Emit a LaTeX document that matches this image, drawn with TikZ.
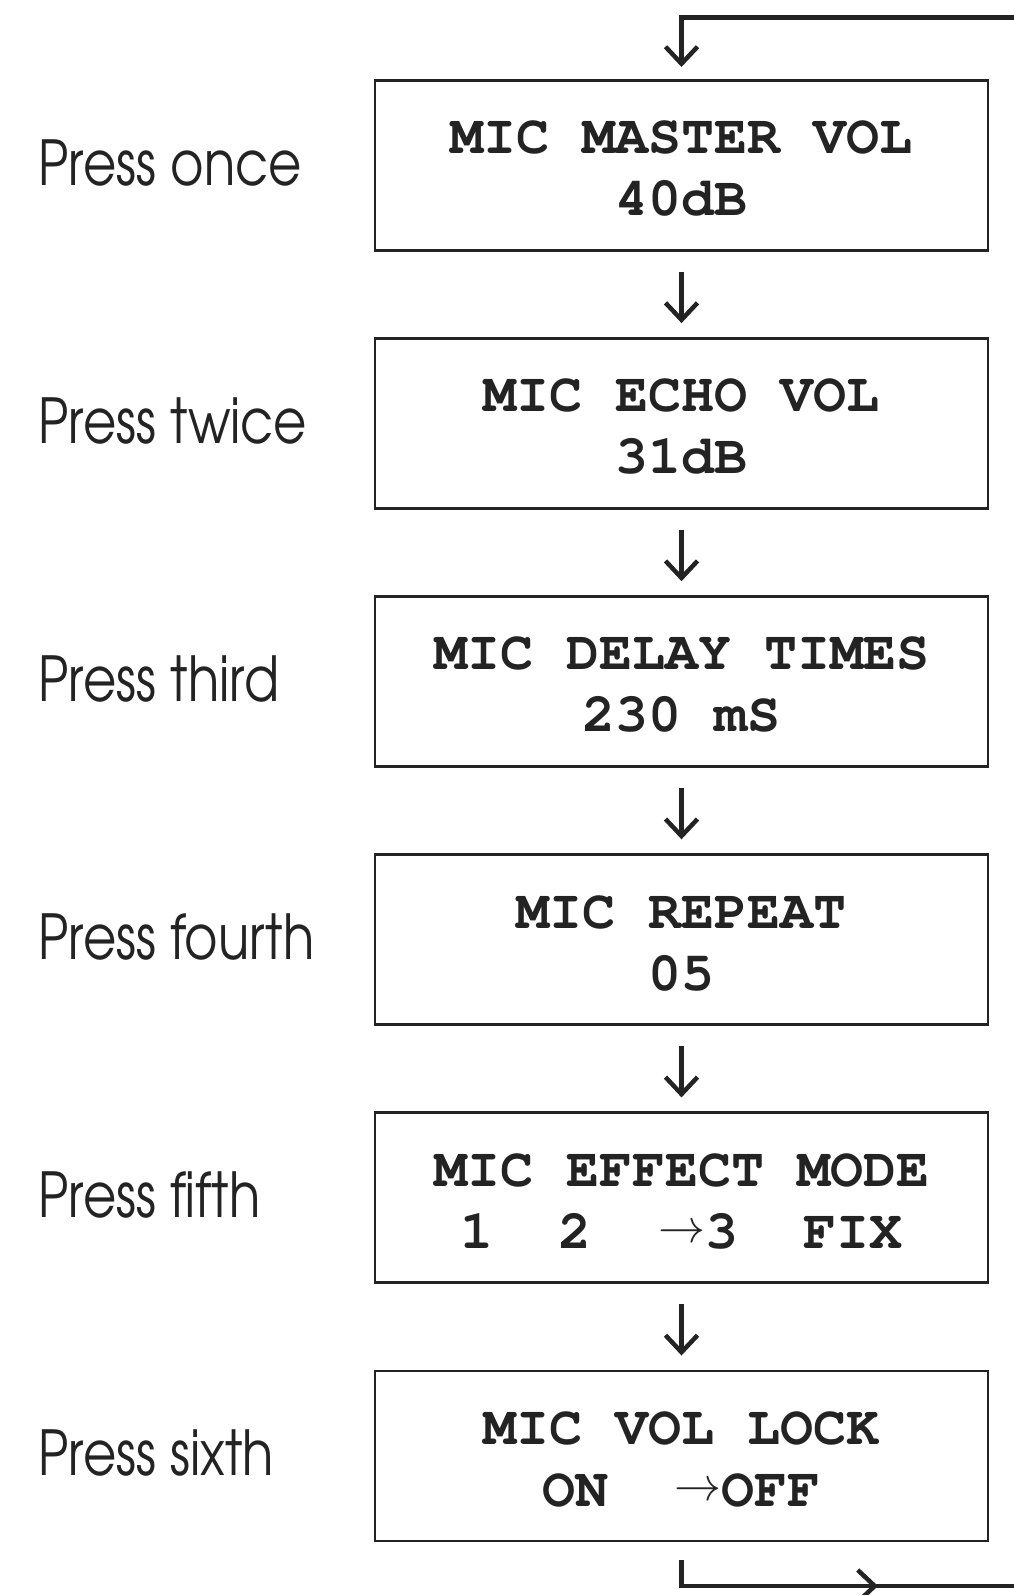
\documentclass[tikz,border=0pt]{standalone}
\usepackage[T1]{fontenc}
\usepackage{graphicx}
\usetikzlibrary{arrows.meta}
\definecolor{ink}{RGB}{35,35,35}
\newcommand\boxfont{\fontsize{55}{62}\usefont{T1}{pcr}{b}{n}}
\newcommand\labfont{\fontsize{62}{70}\usefont{T1}{pag}{m}{n}}
\newcommand\topstrut{\rule{0pt}{40pt}}
\newcommand\selarrow{\raisebox{6pt}{\fontsize{10}{12}\selectfont\scalebox{4.7}{$\rightarrow$}}}
\newcommand\narrowlab[1]{\scalebox{0.825}[1]{#1}}
\begin{document}
\begin{tikzpicture}[x=1pt,y=-1pt,
  panel/.style={draw=ink, line width=2.6pt, minimum width=613pt, minimum height=170pt, inner sep=0pt, align=center, text=ink, font=\boxfont},
  presslabel/.style={anchor=base west, inner sep=0pt, text=ink, font=\labfont},
  flow/.style={draw=ink, line width=4.5pt, -{Straight Barb[length=17pt,width=32pt]}},
  plainflow/.style={draw=ink, line width=4.5pt},
]
\useasboundingbox (0,0) rectangle (1014,1595);
\node[panel] (b1) at (681.5,165.3) {\topstrut MIC MASTER VOL\\40dB};
\node[panel] (b2) at (681.5,423.4) {\topstrut MIC ECHO VOL\\31dB};
\node[panel] (b3) at (681.5,681.5) {\topstrut MIC DELAY TIMES\\230~mS};
\node[panel] (b4) at (681.5,939.6) {\topstrut MIC REPEAT\\05};
\node[panel] (b5) at (681.5,1197.7) {\topstrut MIC EFFECT MODE\\1~~2~~\selarrow3~~FIX};
\node[panel] (b6) at (681.5,1455.8) {\topstrut MIC VOL LOCK\\ON~~\selarrow OFF};
\node[presslabel] (l1) at (38,185.3) {\narrowlab{Press once}};
\node[presslabel] (l2) at (38,443.4) {\narrowlab{Press twice}};
\node[presslabel] (l3) at (38,701.5) {\narrowlab{Press third}};
\node[presslabel] (l4) at (38,959.6) {\narrowlab{Press fourth}};
\node[presslabel] (l5) at (38,1217.7) {\narrowlab{Press fifth}};
\node[presslabel] (l6) at (38,1475.8) {\narrowlab{Press sixth}};
\coordinate (topR) at (1014,17.5);
\coordinate (topL) at (681.5,17.5);
\draw[flow] (topR) -- (topL) -- ([yshift=12pt]b1.north);
\draw[flow] ([yshift=-20pt]b1.south) -- ([yshift=14pt]b2.north);
\draw[flow] ([yshift=-20pt]b2.south) -- ([yshift=14pt]b3.north);
\draw[flow] ([yshift=-20pt]b3.south) -- ([yshift=14pt]b4.north);
\draw[flow] ([yshift=-20pt]b4.south) -- ([yshift=14pt]b5.north);
\draw[flow] ([yshift=-20pt]b5.south) -- ([yshift=14pt]b6.north);
\coordinate (botC) at (681.5,1586);
\coordinate (botM) at (878,1586);
\coordinate (botR) at (1014,1586);
\draw[plainflow] ([yshift=-18pt]b6.south) -- (botC) -- (botR);
\draw[flow] (botC) -- (botM);
\end{tikzpicture}
\end{document}
